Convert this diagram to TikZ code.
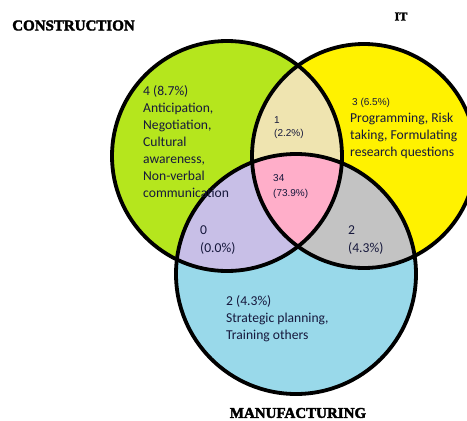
\documentclass[tikz,border=0pt]{standalone}
\usepackage{fontspec}
\usepackage{xcolor}
\setmainfont{Carlito}
\newfontfamily\headfont[FakeBold=2.5]{Liberation Serif}
\newfontfamily\countfont{Liberation Sans}
\definecolor{constrgreen}{RGB}{181,230,29}
\definecolor{ityellow}{RGB}{255,242,0}
\definecolor{manublue}{RGB}{153,217,234}
\definecolor{cittan}{RGB}{239,228,176}
\definecolor{cmlilac}{RGB}{200,191,231}
\definecolor{imgrey}{RGB}{195,195,195}
\definecolor{allpink}{RGB}{255,174,201}
\definecolor{inknavy}{RGB}{22,24,60}

\begin{document}
\begin{tikzpicture}[x=1pt,y=-1pt,
  ring/.style={line width=3.8pt},
  heading/.style={inner sep=0pt,font=\headfont\bfseries\fontsize{15}{18}\selectfont},
  skills/.style={inner sep=0pt,anchor=north west,align=left,text=inknavy,
    font=\fontsize{13.6}{17}\selectfont},
  tally/.style={inner sep=0pt,anchor=north west,align=left,text=inknavy,
    font=\countfont\fontsize{10}{13}\selectfont}]
  \clip (0,0) rectangle (467,421);
  \fill[white] (0,0) rectangle (467,421);
  % the three sets
  \fill[constrgreen] (227,156) circle (115);
  \fill[ityellow] (364,156) circle (112);
  \fill[manublue] (296,274) circle (120);
  % overlaps
  \begin{scope}
    \clip (227,156) circle (115);
    \fill[cittan] (364,156) circle (112);
    \fill[cmlilac] (296,274) circle (120);
  \end{scope}
  \begin{scope}
    \clip (364,156) circle (112);
    \fill[imgrey] (296,274) circle (120);
    \clip (227,156) circle (115);
    \fill[allpink] (296,274) circle (120);
  \end{scope}
  \draw[ring] (227,156) circle (115);
  \draw[ring] (364,156) circle (112);
  \draw[ring] (296,274) circle (120);
  % set names
  \node[heading] (constr) at (73.5,25.5) {CONSTRUCTION};
  \node[heading,font=\headfont\bfseries\fontsize{12}{14}\selectfont] (it) at (401,16.5) {IT};
  \node[heading] (manu) at (298,413) {MANUFACTURING};
  % counts and skills
  \node[skills] (constronly) at (143,85) {4 (8.7\%)\\Anticipation,\\Negotiation,\\Cultural\\awareness,\\Non-verbal\\communication};
  \node[tally,anchor=base west] (itcount) at (352,105) {3 (6.5\%)};
  \node[skills,font=\fontsize{13.6}{17.2}\selectfont] (itonly) at (350,112.5) {Programming, Risk\\taking, Formulating\\research questions};
  \node[tally] (constrit) at (274,116.5) {1\\(2.2\%)};
  \node[tally,font=\countfont\fontsize{10}{15}\selectfont] (all) at (273,174.5) {34\\(73.9\%)};
  \node[skills,font=\fontsize{13.6}{18}\selectfont] (itmanu) at (348,225.5) {2\\(4.3\%)};
  \node[skills,font=\fontsize{13.6}{18}\selectfont] (constrmanu) at (200,225) {0\\(0.0\%)};
  \node[skills] (manuonly) at (226,295.5) {2 (4.3\%)\\Strategic planning,\\Training others};
\end{tikzpicture}
\end{document}
